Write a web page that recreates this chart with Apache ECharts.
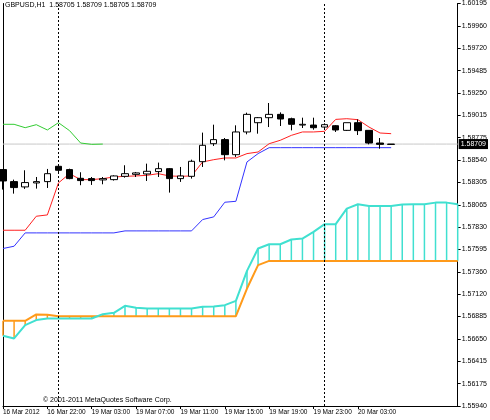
<!DOCTYPE html>
<html>
<head>
<meta charset="utf-8">
<script src="https://cdn.jsdelivr.net/npm/echarts@6/dist/echarts.min.js"></script>
<style>
  html, body { margin: 0; padding: 0; background: #fff; }
  #main { width: 490px; height: 420px; }
</style>
</head>
<body>
<div id="main"></div>
<script type="text/javascript">
  var times = [
    '16 Mar 18:00', '16 Mar 19:00', '16 Mar 20:00', '16 Mar 21:00', '16 Mar 22:00',
    '19 Mar 00:00', '19 Mar 01:00', '19 Mar 02:00', '19 Mar 03:00', '19 Mar 04:00',
    '19 Mar 05:00', '19 Mar 06:00', '19 Mar 07:00', '19 Mar 08:00', '19 Mar 09:00',
    '19 Mar 10:00', '19 Mar 11:00', '19 Mar 12:00', '19 Mar 13:00', '19 Mar 14:00',
    '19 Mar 15:00', '19 Mar 16:00', '19 Mar 17:00', '19 Mar 18:00', '19 Mar 19:00',
    '19 Mar 20:00', '19 Mar 21:00', '19 Mar 22:00', '19 Mar 23:00', '20 Mar 00:00',
    '20 Mar 01:00', '20 Mar 02:00', '20 Mar 03:00', '20 Mar 04:00', '20 Mar 05:00',
    '20 Mar 06:00', '20 Mar 07:00', '20 Mar 08:00', '20 Mar 09:00', '20 Mar 10:00',
    '20 Mar 11:00', '20 Mar 12:00'
  ];
  var timeLabels = { 0: '16 Mar 2012', 4: '16 Mar 22:00', 8: '19 Mar 03:00', 12: '19 Mar 07:00',
    16: '19 Mar 11:00', 20: '19 Mar 15:00', 24: '19 Mar 19:00', 28: '19 Mar 23:00', 32: '20 Mar 03:00' };
  var priceLabels = ['1.55940', '1.56175', '1.56415', '1.56650', '1.56885', '1.57120', '1.57360',
    '1.57595', '1.57830', '1.58065', '1.58305', '1.58540', '1.58775', '1.59015', '1.59250',
    '1.59485', '1.59720', '1.59960', '1.60195'];

  // open, close, low, high
  var candles = [
    [1.58439, 1.58319, 1.58228, 1.58442],
    [1.58312, 1.58249, 1.58185, 1.58333],
    [1.58256, 1.58302, 1.58235, 1.58432],
    [1.58298, 1.58312, 1.58238, 1.58361],
    [1.58312, 1.58396, 1.58245, 1.58446],
    [1.58474, 1.58432, 1.58414, 1.58492],
    [1.58439, 1.58344, 1.58337, 1.58449],
    [1.58347, 1.58323, 1.58274, 1.58411],
    [1.58344, 1.58323, 1.58277, 1.58361],
    [1.58330, 1.58344, 1.58284, 1.58361],
    [1.58333, 1.58372, 1.58323, 1.58379],
    [1.58368, 1.58396, 1.58354, 1.58485],
    [1.58389, 1.58404, 1.58361, 1.58414],
    [1.58393, 1.58421, 1.58319, 1.58502],
    [1.58418, 1.58449, 1.58361, 1.58513],
    [1.58449, 1.58344, 1.58196, 1.58456],
    [1.58344, 1.58372, 1.58309, 1.58467],
    [1.58368, 1.58527, 1.58344, 1.58544],
    [1.58523, 1.58696, 1.58467, 1.58830],
    [1.58713, 1.58756, 1.58689, 1.58914],
    [1.58756, 1.58597, 1.58537, 1.58773],
    [1.58597, 1.58837, 1.58573, 1.58907],
    [1.58837, 1.59023, 1.58812, 1.59041],
    [1.58935, 1.58988, 1.58819, 1.58995],
    [1.58988, 1.59023, 1.58889, 1.59143],
    [1.59023, 1.58974, 1.58900, 1.59044],
    [1.58977, 1.58918, 1.58854, 1.58988],
    [1.58910, 1.58918, 1.58879, 1.58988],
    [1.58910, 1.58882, 1.58861, 1.58988],
    [1.58889, 1.58914, 1.58872, 1.58928],
    [1.58903, 1.58858, 1.58837, 1.58910],
    [1.58854, 1.58935, 1.58847, 1.58935],
    [1.58935, 1.58851, 1.58805, 1.58970],
    [1.58854, 1.58720, 1.58706, 1.58854],
    [1.58720, 1.58706, 1.58660, 1.58773],
    [1.58705, 1.58709, 1.58705, 1.58709]
  ];
  var tenkan = [1.57798, 1.57798, 1.57798, 1.57946, 1.57960, 1.58298, 1.58396, 1.58333, 1.58333,
    1.58344, 1.58361, 1.58368, 1.58372, 1.58379, 1.58396, 1.58372, 1.58368, 1.58372, 1.58520,
    1.58544, 1.58562, 1.58562, 1.58608, 1.58625, 1.58713, 1.58749, 1.58801, 1.58837, 1.58837,
    1.58844, 1.58970, 1.58977, 1.58967, 1.58889, 1.58826, 1.58819];
  var kijun = [1.57605, 1.57629, 1.57770, 1.57770, 1.57770, 1.57770, 1.57770, 1.57770, 1.57770,
    1.57770, 1.57770, 1.57791, 1.57791, 1.57791, 1.57791, 1.57791, 1.57791, 1.57791, 1.57911,
    1.57939, 1.58094, 1.58104, 1.58520, 1.58608, 1.58671, 1.58671, 1.58671, 1.58671, 1.58671,
    1.58671, 1.58671, 1.58671, 1.58671, 1.58671, 1.58671, 1.58671];
  var chikou = [1.58918, 1.58918, 1.58882, 1.58914, 1.58858, 1.58935, 1.58851, 1.58720, 1.58706, 1.58709];
  var senkouA = [1.56682, 1.56654, 1.56795, 1.56848, 1.56865, 1.56865, 1.56865, 1.56865, 1.56865,
    1.56911, 1.56925, 1.56999, 1.56978, 1.56971, 1.56971, 1.56971, 1.56971, 1.56971, 1.56989,
    1.56992, 1.57006, 1.57052, 1.57369, 1.57605, 1.57650, 1.57650, 1.57700, 1.57710, 1.57781,
    1.57862, 1.57862, 1.58027, 1.58073, 1.58055, 1.58055, 1.58055, 1.58069, 1.58073, 1.58073,
    1.58090, 1.58090, 1.58073];
  var senkouB = [1.56841, 1.56841, 1.56841, 1.56908, 1.56904, 1.56890, 1.56890, 1.56890, 1.56890,
    1.56890, 1.56890, 1.56890, 1.56890, 1.56890, 1.56890, 1.56890, 1.56890, 1.56890, 1.56890,
    1.56890, 1.56890, 1.56890, 1.57182, 1.57429, 1.57474, 1.57474, 1.57474, 1.57474, 1.57474,
    1.57474, 1.57474, 1.57474, 1.57474, 1.57474, 1.57474, 1.57474, 1.57474, 1.57474, 1.57474,
    1.57474, 1.57474, 1.57474];
  var lastPrice = 1.58709;
  var separators = [5, 29];

  var cyan = '#40E0D0';
  var orange = '#FF9A1A';
  var font = '"Liberation Sans", Arial, sans-serif';

  var cloudData = senkouA.map(function (a, i) { return [i, a, senkouB[i]]; });
  var priceLine = times.map(function () { return lastPrice; });

  var chart = echarts.init(document.getElementById('main'));
  chart.setOption({
    animation: false,
    backgroundColor: '#fff',
    textStyle: { fontFamily: font },
    grid: { left: 2, right: 28, top: 3, bottom: 14 },
    graphic: [
      { type: 'text', left: 5, top: 2, style: { text: 'GBPUSD,H1  1.58705 1.58709 1.58705 1.58709', font: '7px ' + font, fill: '#000' } },
      { type: 'text', left: 43, top: 397, style: { text: '© 2001-2011 MetaQuotes Software Corp.', font: '7px ' + font, fill: '#000' } }
    ],
    xAxis: {
      type: 'category',
      data: times,
      boundaryGap: false,
      axisLine: { lineStyle: { color: '#000', width: 1 } },
      axisTick: { length: 3, interval: function (i) { return timeLabels[i] !== undefined; }, lineStyle: { color: '#000' } },
      axisLabel: {
        interval: function (i) { return timeLabels[i] !== undefined; },
        formatter: function (v, i) { return timeLabels[i] || ''; },
        showMinLabel: true, hideOverlap: false,
        align: 'left', margin: 3, fontSize: 6.5, color: '#000', fontFamily: font
      },
      splitLine: { show: false }
    },
    yAxis: [
      {
        type: 'value', min: 1.5594, max: 1.60195, position: 'left',
        axisLine: { show: true, lineStyle: { color: '#000' } },
        axisTick: { show: false }, axisLabel: { show: false }, splitLine: { show: false }
      },
      {
        type: 'value', min: 0, max: 18, interval: 1, position: 'right',
        axisLine: { show: true, lineStyle: { color: '#000' } },
        axisTick: { show: true, length: 3, lineStyle: { color: '#000' } },
        axisLabel: { formatter: function (v) { return priceLabels[Math.round(v)]; }, fontSize: 7, color: '#000', margin: 4, fontFamily: font },
        splitLine: { show: false }
      }
    ],
    series: [
      {
        type: 'custom',
        renderItem: function (params, api) {
          var p1 = api.coord([api.value(0), api.value(1)]);
          var p2 = api.coord([api.value(0), api.value(2)]);
          return {
            type: 'line',
            shape: { x1: p1[0], y1: p1[1], x2: p2[0], y2: p2[1] },
            style: { stroke: api.value(1) >= api.value(2) ? cyan : orange, lineWidth: 1.5 }
          };
        },
        encode: { x: 0, y: [1, 2] },
        data: cloudData,
        z: 1
      },
      {
        type: 'line', data: priceLine, symbol: 'none', silent: true,
        lineStyle: { color: '#c8c8c8', width: 1 },
        endLabel: { show: true, formatter: '1.58709', backgroundColor: '#000', color: '#fff',
          fontSize: 7, padding: [2, 2, 1, 2], distance: 1, fontFamily: font },
        markLine: {
          silent: true, symbol: 'none', label: { show: false },
          lineStyle: { color: '#000', type: [2, 2], width: 1 },
          data: separators.map(function (s) { return { xAxis: s }; })
        },
        z: 1
      },
      { type: 'line', data: senkouB, symbol: 'none', lineStyle: { color: orange, width: 2 }, z: 2 },
      { type: 'line', data: senkouA, symbol: 'none', lineStyle: { color: cyan, width: 2 }, z: 2 },
      { type: 'line', data: chikou, symbol: 'none', lineStyle: { color: '#33cc33', width: 1 }, z: 3 },
      { type: 'line', data: kijun, symbol: 'none', lineStyle: { color: '#3333ff', width: 1 }, z: 3 },
      { type: 'line', data: tenkan, symbol: 'none', lineStyle: { color: '#ff2020', width: 1 }, z: 4 },
      {
        type: 'candlestick',
        data: candles,
        barWidth: 7,
        itemStyle: { color: '#fff', color0: '#000', borderColor: '#000', borderColor0: '#000', borderWidth: 1 },
        z: 5
      }
    ]
  });
</script>
</body>
</html>
